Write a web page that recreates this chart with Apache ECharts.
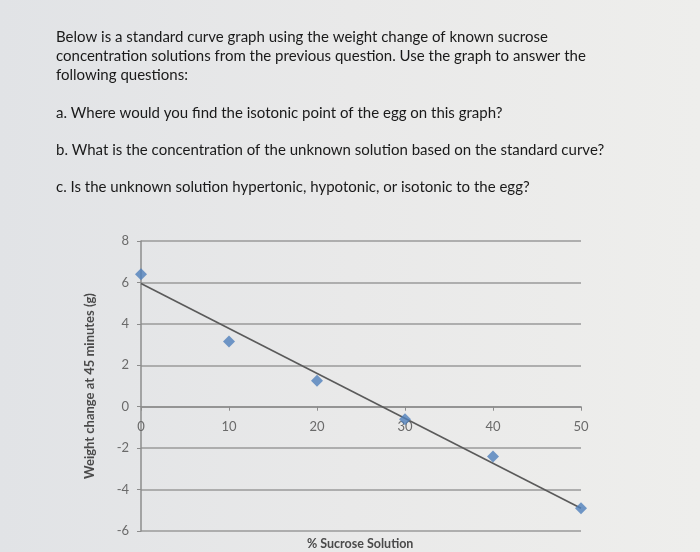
<!DOCTYPE html>
<html>
<head>
<meta charset="utf-8">
<script src="https://cdn.jsdelivr.net/npm/echarts@6/dist/echarts.min.js"></script>
<style>
  html, body { margin: 0; padding: 0; }
  #chart { width: 700px; height: 552px; }
</style>
</head>
<body>
<div id="chart"></div>
<script>
// % sucrose of the known solutions
const sucrose = [0, 10, 20, 30, 40, 50]
// weight change after 45 minutes (g)
const weightChange = [6.4, 3.15, 1.25, -0.6, -2.4, -4.9]
// standard curve drawn across the chart (ends at 0 and 50)
const trendX = [0, 50]
const trendY = [5.95, -4.9]

const introLines = [
    'Below is a standard curve graph using the weight change of known sucrose',
    'concentration solutions from the previous question. Use the graph to answer the',
    'following questions:'
]
const questions = [
    'a. Where would you find the isotonic point of the egg on this graph?',
    'b. What is the concentration of the unknown solution based on the standard curve?',
    'c. Is the unknown solution hypertonic, hypotonic, or isotonic to the egg?'
]

const textFont = 'Lato, "Open Sans", sans-serif'
const gridTop = 241, gridBottom = 21
const yMin = -6, yMax = 8
// move the x axis (line, ticks, labels) up to the zero line
const plotH = 552 - gridTop - gridBottom
const zeroOffset = -plotH * (0 - yMin) / (yMax - yMin)

const textEls = []
introLines.forEach((t, i) => {
    textEls.push({ type: 'text', left: 56, top: 30 + i * 19,
        style: { text: t, font: '15px ' + textFont, fill: '#1a1a1a' } })
})
questions.forEach((t, i) => {
    textEls.push({ type: 'text', left: 56, top: 106 + i * 37,
        style: { text: t, font: '15px ' + textFont, fill: '#1a1a1a' } })
})
// x axis title sits at the bottom, not next to the zero line
textEls.push({ type: 'text', left: 307, top: 537,
    style: { text: '% Sucrose Solution', font: 'bold 12.5px ' + textFont, fill: '#4a4a4a' } })

let chart = echarts.init(document.getElementById('chart'))
chart.setOption({
    backgroundColor: {
        type: 'linear', x: 0, y: 0, x2: 1, y2: 0,
        colorStops: [
            { offset: 0, color: '#e1e3e6' },
            { offset: 0.5, color: '#e9e9e9' },
            { offset: 1, color: '#eeeeec' }
        ]
    },
    graphic: textEls,
    grid: { left: 141, right: 119, top: gridTop, bottom: gridBottom, containLabel: false },
    xAxis: {
        type: 'value',
        min: 0, max: 50, interval: 10,
        offset: zeroOffset,
        axisLine: { onZero: false, lineStyle: { color: '#8c8c8c', width: 1.5 } },
        axisTick: { show: true, length: 4, lineStyle: { color: '#8c8c8c' } },
        axisLabel: { color: '#6a6a6a', fontSize: 13, fontFamily: textFont, margin: 14 },
        splitLine: { show: false }
    },
    yAxis: {
        type: 'value',
        min: yMin, max: yMax, interval: 2,
        name: 'Weight change at 45 minutes (g)',
        nameLocation: 'middle',
        nameGap: 45,
        nameTextStyle: { color: '#4a4a4a', fontSize: 13, fontWeight: 'bold', fontFamily: textFont },
        axisLine: { show: true, lineStyle: { color: '#8c8c8c', width: 1.5 } },
        axisTick: { show: true, length: 4, lineStyle: { color: '#8c8c8c' } },
        axisLabel: { color: '#6a6a6a', fontSize: 13, fontFamily: textFont, margin: 12 },
        splitLine: { show: true, lineStyle: { color: '#9a9a9a', width: 1.5 } }
    },
    series: [
        {
            type: 'line',
            data: trendX.map((x, i) => [x, trendY[i]]),
            showSymbol: false,
            lineStyle: { color: '#5a5a5a', width: 1.6 },
            silent: true,
            z: 2
        },
        {
            type: 'scatter',
            data: sucrose.map((x, i) => [x, weightChange[i]]),
            symbol: 'diamond',
            symbolSize: 12,
            itemStyle: { color: '#4f7fbc' },
            z: 3
        }
    ]
})
</script>
</body>
</html>
